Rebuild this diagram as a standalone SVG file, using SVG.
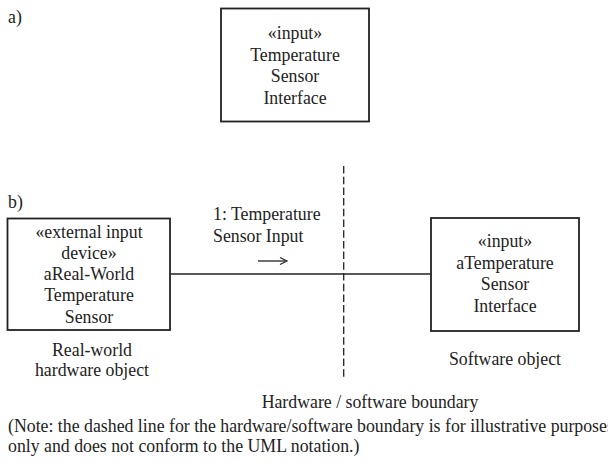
<svg xmlns="http://www.w3.org/2000/svg" width="608" height="469" viewBox="0 0 608 469">
<rect width="608" height="469" fill="#fff"/>
<g font-family="Liberation Serif, serif" font-size="17.8" fill="#222">
<text x="8" y="23">a)</text>
<g id="nodeA" text-anchor="middle">
<rect x="221" y="8.5" width="148" height="113" fill="#fff" stroke="#222" stroke-width="1.8"/>
<text x="295" y="39">«input»</text>
<text x="295" y="60.5">Temperature</text>
<text x="295" y="82">Sensor</text>
<text x="295" y="103.5">Interface</text>
</g>
<text x="8" y="208">b)</text>
<g id="connectors" stroke="#222" stroke-width="1.3" fill="none">
<line x1="170" y1="274" x2="431" y2="274"/>
<line x1="343.7" y1="166" x2="343.7" y2="380" stroke-dasharray="7.5 3.2"/>
<line x1="258" y1="261" x2="285" y2="261"/>
<path d="M280,257.5 L287,261 L280,264.5" stroke-width="1.2"/>
</g>
<g id="msgLabel">
<text x="213" y="219.5">1: Temperature</text>
<text x="213" y="242">Sensor Input</text>
</g>
<g id="nodeHW" text-anchor="middle">
<rect x="7.5" y="218.5" width="162.5" height="111.5" fill="#fff" stroke="#222" stroke-width="1.8"/>
<text x="89" y="237.5">«external input</text>
<text x="89" y="258.5">device»</text>
<text x="89" y="280">aReal-World</text>
<text x="89" y="301">Temperature</text>
<text x="89" y="322.5">Sensor</text>
<text x="92" y="355.5">Real-world</text>
<text x="92" y="376">hardware object</text>
</g>
<g id="nodeSW" text-anchor="middle">
<rect x="431" y="218" width="148" height="113" fill="#fff" stroke="#222" stroke-width="1.8"/>
<text x="505" y="247">«input»</text>
<text x="505" y="269">aTemperature</text>
<text x="505" y="290">Sensor</text>
<text x="505" y="311.5">Interface</text>
<text x="505" y="364.5">Software object</text>
</g>
<text x="370" y="407.5" text-anchor="middle">Hardware / software boundary</text>
<text x="8" y="431.5">(Note: the dashed line for the hardware/software boundary is for illustrative purposes</text>
<text x="8" y="452">only and does not conform to the UML notation.)</text>
</g>
</svg>
